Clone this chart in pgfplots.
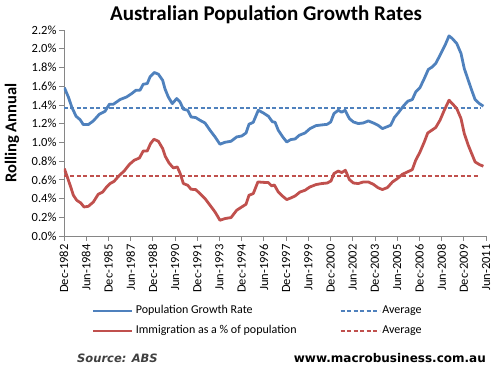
\documentclass[border=0pt]{standalone}
\usepackage{fontspec}
\setmainfont{Carlito}
\newfontfamily\dejavu{DejaVu Sans}
\usepackage{pgfplots}
\pgfplotsset{compat=1.18}
\definecolor{exblue}{HTML}{4F81BD}
\definecolor{exred}{HTML}{C0504D}
\definecolor{axgray}{HTML}{868686}
\definecolor{srcgray}{HTML}{404040}

\pgfplotstableread{
x y
1982.94 1.585
1983.21 1.485
1983.44 1.378
1983.73 1.279
1984.00 1.243
1984.22 1.19
1984.56 1.19
1984.90 1.229
1985.30 1.30
1985.69 1.332
1985.98 1.407
1986.25 1.407
1986.70 1.457
1987.15 1.485
1987.49 1.521
1987.78 1.557
1988.05 1.557
1988.27 1.621
1988.54 1.628
1988.73 1.70
1989.02 1.746
1989.29 1.728
1989.58 1.663
1989.74 1.57
1989.96 1.485
1990.23 1.414
1990.53 1.468
1990.75 1.432
1990.98 1.354
1991.27 1.343
1991.50 1.271
1991.81 1.265
1992.10 1.236
1992.44 1.207
1992.78 1.129
1993.12 1.058
1993.45 0.98
1993.79 1.001
1994.20 1.012
1994.58 1.058
1994.92 1.068
1995.21 1.10
1995.41 1.193
1995.70 1.215
1996.04 1.343
1996.38 1.314
1996.72 1.279
1996.99 1.22
1997.17 1.215
1997.39 1.129
1997.69 1.058
1997.96 1.004
1998.23 1.03
1998.52 1.036
1998.81 1.076
1999.19 1.10
1999.53 1.147
1999.94 1.179
2000.32 1.186
2000.70 1.193
2000.93 1.218
2001.15 1.308
2001.44 1.343
2001.67 1.322
2001.90 1.343
2002.19 1.254
2002.46 1.218
2002.79 1.201
2003.13 1.207
2003.47 1.229
2003.81 1.207
2004.15 1.18
2004.42 1.147
2004.71 1.165
2004.98 1.183
2005.23 1.265
2005.54 1.325
2005.83 1.386
2006.13 1.439
2006.44 1.457
2006.67 1.538
2006.96 1.585
2007.25 1.682
2007.52 1.778
2007.79 1.806
2008.02 1.842
2008.31 1.93
2008.65 2.037
2008.92 2.137
2009.14 2.109
2009.44 2.056
2009.73 1.949
2009.95 1.788
2010.22 1.663
2010.45 1.557
2010.68 1.457
2010.97 1.414
2011.24 1.386
}\popdata

\pgfplotstableread{
x y
1982.94 0.72
1983.14 0.63
1983.37 0.524
1983.55 0.435
1983.78 0.381
1984.05 0.353
1984.27 0.31
1984.56 0.317
1984.90 0.363
1985.23 0.446
1985.53 0.47
1985.80 0.524
1986.03 0.56
1986.30 0.584
1986.66 0.648
1986.98 0.694
1987.34 0.766
1987.66 0.809
1988.01 0.833
1988.27 0.908
1988.54 0.908
1988.76 0.987
1988.99 1.033
1989.29 1.012
1989.58 0.934
1989.76 0.85
1990.01 0.78
1990.30 0.727
1990.57 0.737
1990.75 0.673
1990.98 0.56
1991.27 0.542
1991.50 0.499
1991.81 0.496
1992.10 0.453
1992.44 0.40
1992.78 0.328
1993.12 0.256
1993.45 0.168
1993.79 0.186
1994.20 0.197
1994.58 0.275
1994.92 0.31
1995.21 0.339
1995.41 0.435
1995.70 0.453
1996.01 0.577
1996.38 0.573
1996.72 0.57
1996.94 0.535
1997.12 0.545
1997.39 0.47
1997.69 0.424
1997.96 0.389
1998.23 0.406
1998.52 0.427
1998.86 0.47
1999.19 0.488
1999.53 0.524
1999.94 0.549
2000.32 0.56
2000.70 0.566
2000.95 0.588
2001.15 0.667
2001.44 0.694
2001.67 0.677
2001.92 0.702
2002.19 0.603
2002.46 0.566
2002.79 0.56
2003.13 0.577
2003.47 0.577
2003.81 0.552
2004.13 0.515
2004.42 0.496
2004.76 0.517
2005.10 0.577
2005.43 0.613
2005.77 0.659
2006.11 0.684
2006.44 0.709
2006.67 0.809
2006.96 0.897
2007.25 1.004
2007.48 1.10
2007.75 1.129
2008.02 1.158
2008.31 1.236
2008.60 1.343
2008.92 1.45
2009.14 1.414
2009.44 1.361
2009.73 1.254
2009.95 1.094
2010.22 0.969
2010.45 0.88
2010.68 0.791
2010.97 0.763
2011.24 0.745
}\immdata

\begin{document}
\begin{tikzpicture}[x=1pt,y=1pt]
\path[use as bounding box] (-64,-135) rectangle (440,236);
\begin{axis}[
  at={(0,0)}, anchor=south west,
  scale only axis, width=422pt, height=206pt,
  xmin=1982.917, xmax=2011.417,
  ymin=0, ymax=2.2,
  axis lines*=left,
  axis line style={draw=axgray, line width=0.8pt, -},
  tick align=outside, major tick length=5pt,
  tick style={draw=axgray, line width=0.8pt},
  xtick={1982.917,1984.417,1985.917,1987.417,1988.917,1990.417,1991.917,1993.417,1994.917,1996.417,1997.917,1999.417,2000.917,2002.417,2003.917,2005.417,2006.917,2008.417,2009.917,2011.417},
  xticklabels={Dec-1982,Jun-1984,Dec-1985,Jun-1987,Dec-1988,Jun-1990,Dec-1991,Jun-1993,Dec-1994,Jun-1996,Dec-1997,Jun-1999,Dec-2000,Jun-2002,Dec-2003,Jun-2005,Dec-2006,Jun-2008,Dec-2009,Jun-2011},
  xticklabel style={rotate=90, anchor=east, font=\fontsize{12.5}{12.5}\selectfont},
  ytick={0,0.2,0.4,0.6,0.8,1.0,1.2,1.4,1.6,1.8,2.0,2.2},
  /pgf/number format/assume math mode=true,
  yticklabel={\pgfmathprintnumber[fixed,fixed zerofill,precision=1]{\tick}\%},
  yticklabel style={font=\fontsize{12.5}{12.5}\selectfont, xshift=1pt},
  ylabel={Rolling Annual},
  every axis y label/.style={at={(axis description cs:-0.123,0.5)}, rotate=90, anchor=center, font=\fontsize{16.5}{16.5}\selectfont\bfseries},
  legend columns=2,
  legend style={at={(axis description cs:0.0665,-0.325)}, anchor=north west, draw=none, fill=none, inner sep=0pt, outer sep=0pt,
    font=\fontsize{12}{12}\selectfont, row sep=4pt,
    nodes={inner sep=2pt, text height=9pt, text depth=3pt},
    /tikz/every even column/.append style={column sep=41pt}},
  legend cell align=left,
  legend image code/.code={\draw[#1] (0pt,0pt) -- (39pt,0pt);},
]
\addplot[exblue, line width=2.8pt, line join=round] table {\popdata};
\addlegendentry{Population Growth Rate}
\addplot[exblue, line width=1.8pt, dash pattern=on 4pt off 2.5pt] coordinates {(1982.917,1.37) (2011.1,1.37)};
\addlegendentry{Average}
\addplot[exred, line width=2.8pt, line join=round] table {\immdata};
\addlegendentry{Immigration as a \% of population}
\addplot[exred, line width=1.8pt, dash pattern=on 4pt off 2.5pt] coordinates {(1982.917,0.641) (2010.9,0.641)};
\addlegendentry{Average}
\end{axis}
\node[font=\fontsize{21}{21}\selectfont\bfseries] at (202,221) {Australian Population Growth Rates};
\node[anchor=west, font=\dejavu\fontsize{11.5}{12}\selectfont\bfseries\itshape, text=srcgray, inner sep=0pt] at (13,-122) {Source: ABS};
\node[anchor=east, font=\dejavu\fontsize{12}{12}\selectfont\bfseries, inner sep=0pt] at (422,-122) {www.macrobusiness.com.au};
\end{tikzpicture}
\end{document}
